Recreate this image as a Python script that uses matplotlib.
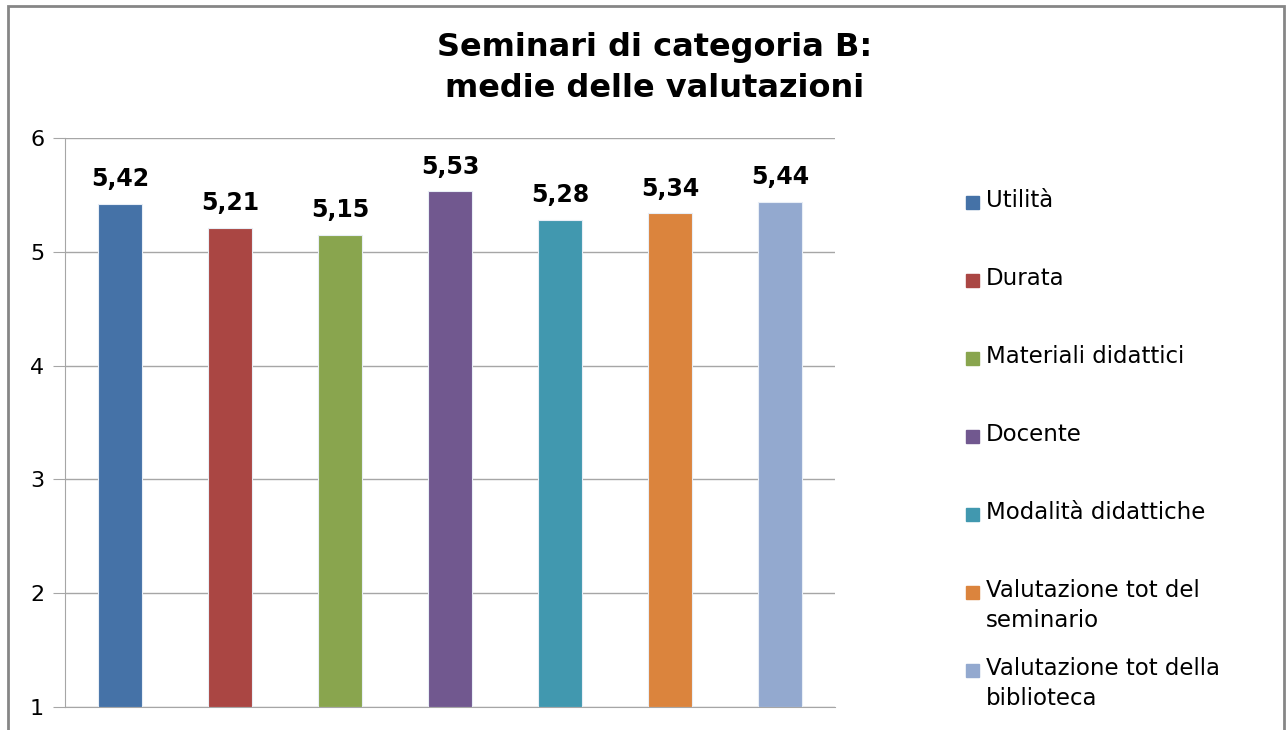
import matplotlib
matplotlib.use("Agg")
import matplotlib.pyplot as plt
from matplotlib.patches import Rectangle

categories = ["Utilità", "Durata", "Materiali didattici", "Docente",
              "Modalità didattiche", "Valutazione tot del\nseminario",
              "Valutazione tot della\nbiblioteca"]
values = [5.42, 5.21, 5.15, 5.53, 5.28, 5.34, 5.44]
colors = ["#4572A7", "#AA4643", "#89A54E", "#71588F",
          "#4198AF", "#DB843D", "#93A9CF"]
yticks = [1, 2, 3, 4, 5, 6]

W, H = 1288, 730
fig = plt.figure(figsize=(W / 100, H / 100), dpi=100)

# outer chart frame, cut at the bottom like the screenshot
fig.patches.append(Rectangle((8 / W, -0.05), 1276 / W, 1 - 6 / H + 0.05,
                             transform=fig.transFigure, fill=False,
                             edgecolor="#868686", linewidth=2))

ax = fig.add_axes([65 / W, 1 - 707 / H, 770 / W, 569 / H])
xs = range(len(values))
ax.bar(xs, [v - 1 for v in values], 0.4, bottom=1, color=colors,
       edgecolor="#e8eef6", linewidth=0.8, zorder=3)
for x, v in zip(xs, values):
    ax.text(x, v + 0.11, f"{v:.2f}".replace(".", ","), ha="center",
            va="bottom", fontsize=17, fontweight="bold")

ax.set_xlim(-0.5, len(values) - 0.5)
ax.set_ylim(1, 6)
ax.set_yticks(yticks)
ax.set_yticklabels([str(t) for t in yticks], fontsize=16)
ax.set_xticks([])
ax.yaxis.grid(True, color="#a6a6a6", linewidth=1, zorder=0)
for s in ("top", "right"):
    ax.spines[s].set_visible(False)
ax.spines["left"].set_color("#a6a6a6")
ax.spines["bottom"].set_color("#a6a6a6")
ax.tick_params(axis="y", length=9, color="#a6a6a6", pad=6)

fig.text(655 / W, 1 - 68 / H, "Seminari di categoria B:\nmedie delle valutazioni",
         ha="center", va="center", fontsize=23, fontweight="bold",
         linespacing=1.4)

# legend drawn by hand so multi-line entries align on their first line
for i, (lab, c) in enumerate(zip(categories, colors)):
    yc = 202 + i * 78
    fig.patches.append(Rectangle((966 / W, 1 - (yc + 7) / H), 13 / W, 13 / H,
                                 transform=fig.transFigure, color=c))
    fig.text(986 / W, 1 - (yc - 13) / H, lab, ha="left", va="top",
             fontsize=16.5, linespacing=1.4)

fig.savefig("out.png", dpi=100)
